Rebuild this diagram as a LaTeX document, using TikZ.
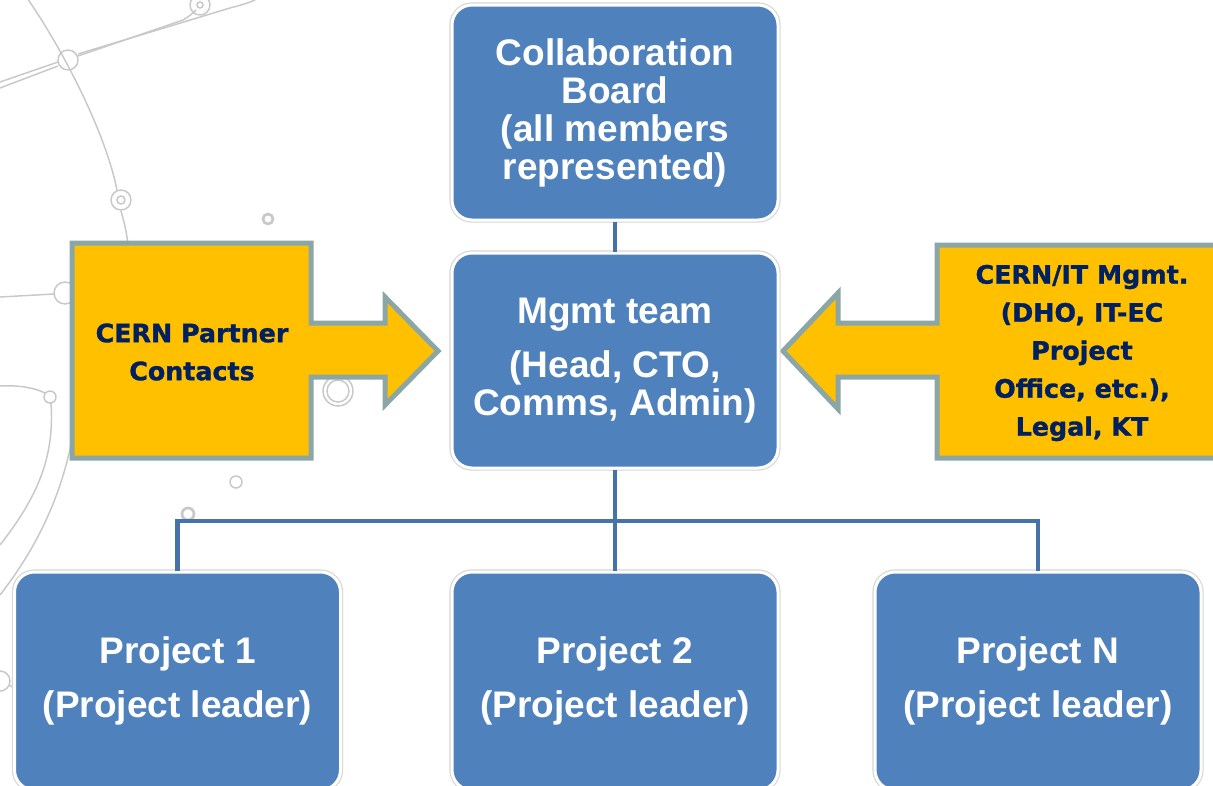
\documentclass[tikz,border=0pt]{standalone}
\usepackage{fontspec}
\setmainfont{Liberation Sans}
\newfontfamily\calloutfont[BoldFeatures={FakeBold=1.2}]{DejaVu Sans}
\usetikzlibrary{positioning}
\definecolor{boxblue}{HTML}{4F81BD}
\definecolor{boxlight}{HTML}{93B9E6}
\definecolor{linkblue}{HTML}{4573A9}
\definecolor{calloutyellow}{HTML}{FFC000}
\definecolor{calloutgray}{HTML}{8AA6A6}
\definecolor{calloutnavy}{HTML}{002060}
\definecolor{decogray}{HTML}{C8C8C8}
\pgfdeclareverticalshading{bevel}{100bp}{color(0bp)=(boxblue); color(86bp)=(boxblue); color(100bp)=(boxlight)}

\begin{document}
\begin{tikzpicture}[
            x=0.75pt, y=-0.75pt,
            orgbox/.style={
                shade, shading=bevel, draw=white, line width=2.25pt,
                preaction={draw=black!16, line width=4pt},
                rounded corners=15pt, minimum width=244.5pt,
                text=white, align=center,
                font=\bfseries\fontsize{27.75}{28.5}\selectfont},
            callout/.style={
                fill=calloutyellow, draw=calloutgray, line width=3.75pt,
                miter limit=4},
            callouttext/.style={
                text=calloutnavy, align=center,
                font=\calloutfont\bfseries\fontsize{19}{28.5}\selectfont},
            link/.style={draw=linkblue, line width=3.5pt},
            deco/.style={draw=decogray, line width=1.1pt}]

        \useasboundingbox (0,0) rectangle (1213,785);
        \clip (0,0) rectangle (1213,785);

        \begin{scope}[deco]
            \draw (27,-2) .. controls (60,45) and (105,130) .. (117,190);
            \draw (121,211) .. controls (125,225) and (127,235) .. (128,245);
            \draw (68,60) circle (10);
            \draw (121,200) circle (10) (121,200) circle (4);
            \draw (0,88) -- (58,66) (78,56) -- (183,20)
                .. controls (190,16) and (194,12) .. (196,10);
            \draw (0,82) -- (58,62) (78,54) -- (230,8)
                .. controls (245,4) and (252,2) .. (258,-2);
            \draw (200,5) circle (10) (200,5) circle (3);
            \draw[line width=2pt] (268,219) circle (5);
            \draw (0,297) -- (54,294);
            \draw (65,293) circle (11);
            \draw (0,386) .. controls (20,385) and (35,388) .. (45,393);
            \draw (50,397) circle (6);
            \draw (51,403) .. controls (55,460) and (35,500) .. (0,545);
            \draw (72,440) .. controls (60,500) and (35,550) .. (0,595);
            \draw (0,681) circle (10);
            \draw (9,685) -- (16,689);
            \draw (338,391) circle (15) (338,391) circle (11);
            \draw (236,482) circle (6);
            \draw[line width=2pt] (188,514) circle (6);
        \end{scope}

        \draw[callout] (72,243) -- (311,243) -- (311,323) -- (385,323)
            -- (385,297) -- (438,351) -- (385,405) -- (385,377)
            -- (311,377) -- (311,458) -- (72,458) -- cycle;
        \draw[callout] (1232,245) -- (937,245) -- (937,323) -- (838,323)
            -- (838,293) -- (783,351) -- (838,409) -- (838,377)
            -- (937,377) -- (937,458) -- (1232,458) -- cycle;

        \node[callouttext] (partners) at (192,352)
            {CERN Partner\\Contacts};
        \node[callouttext] (itmgmt) at (1082,353)
            {CERN/IT Mgmt.\\(DHO, IT-EC\\Project\\Office, etc.),\\Legal, KT};

        \node[orgbox, minimum height=161.25pt] (board) at (615,112.5)
            {Collaboration\\Board\\(all members\\represented)};
        \node[orgbox, minimum height=161.25pt] (mgmt) at (615,360.5)
            {Mgmt team\\[12.5pt](Head, CTO,\\Comms, Admin)};
        \node[orgbox, minimum height=163.5pt] (proj1) at (177.5,681)
            {Project 1\\[12pt](Project leader)};
        \node[orgbox, minimum height=163.5pt] (proj2) at (615,681)
            {Project 2\\[12pt](Project leader)};
        \node[orgbox, minimum height=163.5pt] (projN) at (1038,681)
            {Project N\\[12pt](Project leader)};

        \coordinate (bus) at (615,521);
        \draw[link] (board) -- (mgmt);
        \draw[link] (mgmt) -- (bus);
        \draw[link] (bus) -- (proj2);
        \draw[link] (proj1.north) |- (bus) -| (projN.north);
    \end{tikzpicture}
\end{document}
